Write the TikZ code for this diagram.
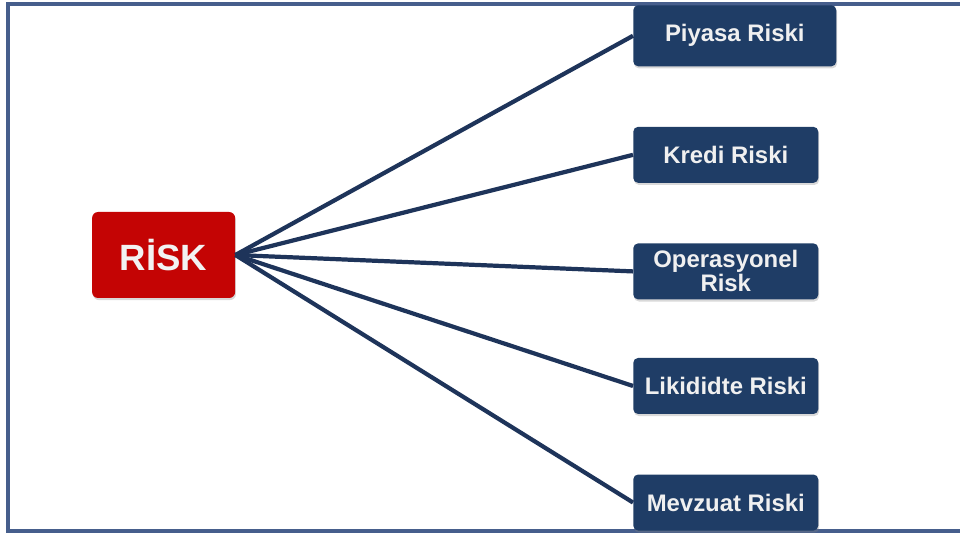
\documentclass[tikz,border=0pt]{standalone}
\usepackage{fontspec}
\setmainfont{Liberation Sans}
\usepackage{xcolor}
\usepackage{tikz}
\usetikzlibrary{positioning, shadows}
\definecolor{navybox}{RGB}{31,61,102}
\definecolor{riskred}{RGB}{196,4,4}
\definecolor{linknavy}{RGB}{30,52,90}
\definecolor{frameblue}{RGB}{70,94,140}

\begin{document}
\begin{tikzpicture}[node distance=1.5cm, auto]
        % Define styles
        \tikzstyle{riskbox} = [rectangle, rounded corners=0.15cm, minimum width=3.575cm, minimum height=2.15cm, text centered, fill=riskred, text=white!95!black, font=\fontsize{26}{28}\selectfont\bfseries, drop shadow={shadow xshift=0.6pt, shadow yshift=-1.5pt, opacity=0.3}]
        \tikzstyle{kind} = [rectangle, rounded corners=0.12cm, minimum width=4.625cm, minimum height=1.4cm, inner sep=2pt, align=center, fill=navybox, text=white!94!black, font=\fontsize{17}{17}\selectfont\bfseries, drop shadow={shadow xshift=0.6pt, shadow yshift=-1.5pt, opacity=0.3}]
        \tikzstyle{link} = [line width=3pt, draw=linknavy]
        
        \useasboundingbox (0,0) rectangle (24,13.4);
        % Frame
        \draw [frameblue, line width=2.4pt] (0.2,0.125) rectangle (24.6,13.3);
        
        % Main node
        \node (risk) [riskbox] at (4.09,7.025) {RİSK};
        
        % Risk kinds
        \node (piyasa) [kind, minimum width=5.075cm, minimum height=1.525cm, anchor=north west] at (15.825,13.275) {Piyasa Riski};
        \node (kredi) [kind, below=1.5cm of piyasa.south west, anchor=north west] {Kredi Riski};
        \node (operasyonel) [kind, below=1.5cm of kredi.south west, anchor=north west] {Operasyonel\\Risk};
        \node (likidite) [kind, below=1.45cm of operasyonel.south west, anchor=north west] {Likididte Riski};
        \node (mevzuat) [kind, below=1.5cm of likidite.south west, anchor=north west] {Mevzuat Riski};
        
        % Links
        \draw [link] (risk.east) -- (piyasa.west);
        \draw [link] (risk.east) -- (kredi.west);
        \draw [link] (risk.east) -- (operasyonel.west);
        \draw [link] (risk.east) -- (likidite.west);
        \draw [link] (risk.east) -- (mevzuat.west);
    \end{tikzpicture}
\end{document}
